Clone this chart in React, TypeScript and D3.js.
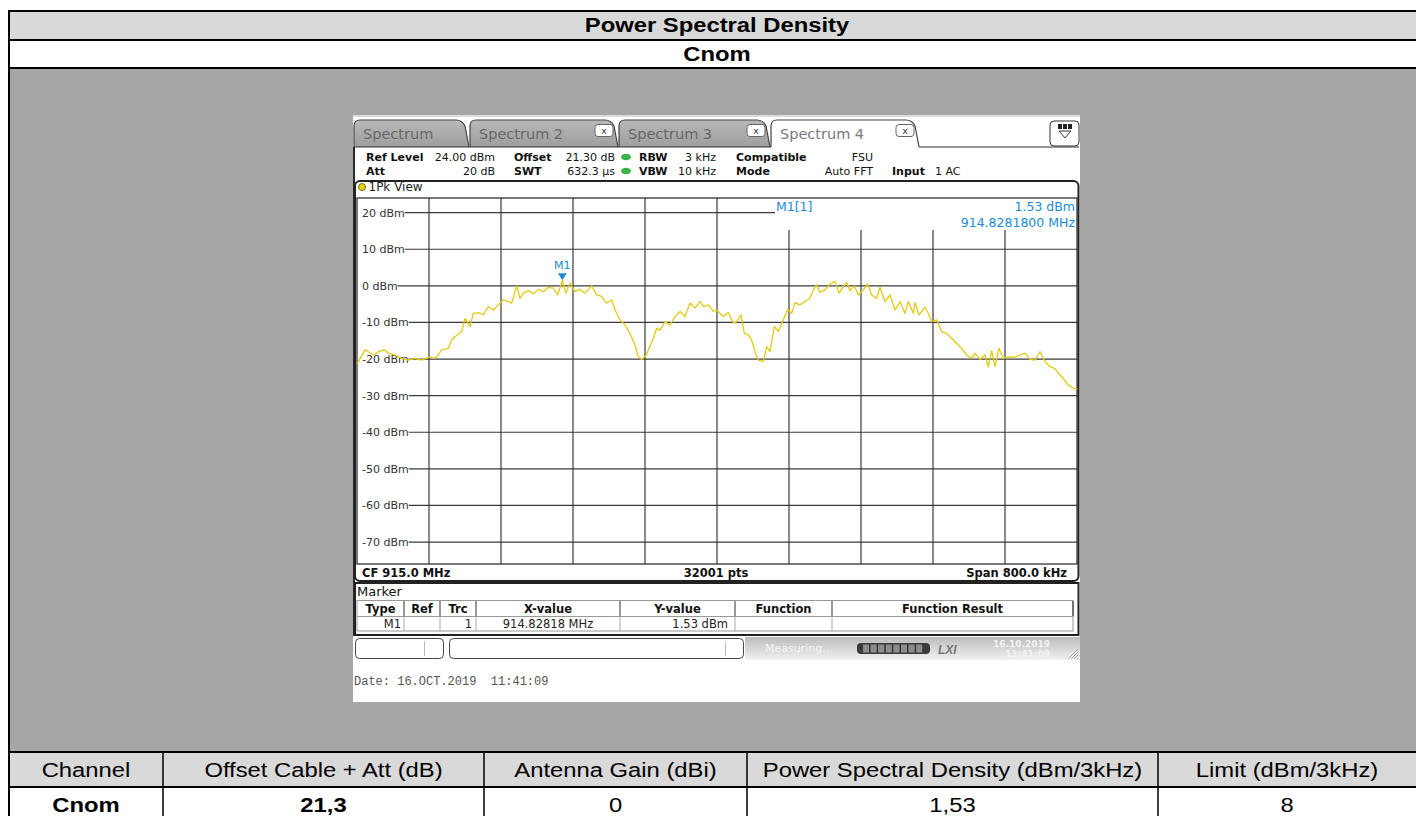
import React from 'react';
import * as d3 from 'd3';

// ---------- data ----------
const traceOffsetKHz = [
  -400, -398.5, -391.1, -387.4, -381.9, -376.3, -368.9, -365.2, -357.8, -350.4, -343.0, -335.6, -328.1,
  -320.0, -313.3, -309.6, -305.9, -298.5, -294.8, -291.1, -283.7, -280.0, -274.4, -270.7, -265.2, -259.6,
  -254.1, -248.5, -243.0, -237.4, -231.9, -228.1, -222.6, -218.9, -215.2, -209.6, -204.1, -198.5, -193.0,
  -187.4, -181.9, -177.0, -171.8, -168.1, -163.3, -157.8, -152.2, -146.7, -139.3, -133.7, -128.1, -122.6,
  -117.0, -113.3, -107.8, -102.2, -96.7, -91.1, -87.4, -83.7, -79.3, -76.3, -70.8, -67.0, -63.3, -57.8,
  -52.2, -46.7, -41.1, -35.6, -30.0, -24.4, -18.9, -15.2, -9.6, -4.1,
  -0.4, 3.3, 7.0, 12.6, 18.1, 21.9, 26.7, 30.4, 34.8, 38.5, 42.2, 45.9, 51.5, 55.2, 58.9, 63.7, 68.1, 73.7,
  78.5, 83.0, 86.7, 92.2, 97.8, 103.3, 107.0, 110.7, 114.4, 120.0, 125.6, 131.1, 135.6, 140.4, 144.1, 147.8,
  152.6, 157.0, 162.6, 167.4, 171.9, 177.4, 181.1, 186.7, 192.2, 197.8, 203.3, 208.9, 212.6, 218.1, 220.0,
  224.4, 231.1, 234.8, 238.5, 244.1, 249.6, 255.2, 260.7, 266.3, 271.9, 277.4, 283.0, 286.7, 292.2, 297.8,
  301.5, 305.2, 308.9, 313.3, 318.1, 323.7, 331.1, 336.7, 342.2, 347.8, 353.3, 358.9, 364.4, 370.0, 375.6,
  379.3, 384.8, 390.4, 396.0, 400,
];
const traceLevelDbm = [
  -21.3, -20.7, -17.5, -18.0, -18.9, -18.0, -17.5, -18.4, -18.9, -19.8, -20.3, -19.8, -20.3,
  -19.5, -19.8, -18.9, -17.4, -17.1, -14.8, -13.9, -12.5, -8.9, -11.1, -7.5, -7.3, -7.9,
  -5.7, -6.6, -5.2, -3.8, -4.3, -4.7, 0.0, -3.4, -2.0, -1.3, -2.2, -0.9, -1.6,
  -0.4, -0.6, -2.5, 1.53, -2.0, 0.7, -1.6, -0.9, -2.0, 0.0, -2.5, -2.9, -4.7,
  -3.8, -6.6, -9.3, -10.7, -13.0, -16.2, -19.4, -20.1, -19.2, -17.5, -14.3, -11.6, -12.1, -9.8,
  -10.7, -8.4, -7.0, -8.4, -4.7, -6.1, -4.3, -5.7, -5.2, -7.0,
  -6.6, -7.5, -8.4, -7.3, -10.2, -9.8, -7.9, -13.0, -13.4, -14.8, -18.0, -20.3, -20.7, -16.6, -18.0, -11.1, -12.5, -9.3,
  -6.4, -7.5, -4.6, -5.2, -4.3, -3.4, -1.1, 0.3, -1.8, -1.1, 0.5, 1.2, -2.0, -0.2, 0.9, -1.3,
  0.0, -2.5, -1.1, 0.5, -2.5, -3.4, -0.4, -4.3, -2.5, -6.6, -4.3, -7.5, -4.3, -7.5, -4.6,
  -7.9, -5.8, -7.5, -9.8, -9.3, -12.5, -13.0, -14.3, -15.7, -17.1, -18.9, -19.8, -18.4, -20.1, -18.9,
  -22.1, -17.7, -22.1, -17.1, -19.8, -19.4, -19.5, -18.9, -18.4, -20.1, -20.3, -18.0, -20.7, -22.1, -22.6,
  -23.9, -25.3, -27.1, -28.0, -28.2,
];
const yTicksDbm = [20, 10, 0, -10, -20, -30, -40, -50, -60, -70];
const xDivOffsetsKHz = [-320, -240, -160, -80, 0, 80, 160, 240, 320];
const markerOffsetKHz = -171.82;
const markerLevelDbm = 1.53;

const tableHeaders = ['Channel', 'Offset Cable + Att (dB)', 'Antenna Gain (dBi)', 'Power Spectral Density (dBm/3kHz)', 'Limit (dBm/3kHz)'];
const tableValues = ['Cnom', '21,3', '0', '1,53', '8'];
const markerTableHeaders = ['Type', 'Ref', 'Trc', 'X-value', 'Y-value', 'Function', 'Function Result'];
const tabLabels = ['Spectrum', 'Spectrum 2', 'Spectrum 3', 'Spectrum 4'];

// ---------- layout ----------
const colEdges = [9, 163, 484, 747, 1158, 1420];
const mtEdges = [357, 404, 440, 476, 620, 735, 832, 1073];
const tabEdges = [354, 470, 619, 771, 920];

const SANS = "'Liberation Sans', Arial, sans-serif";
const DV = "'DejaVu Sans', Verdana, sans-serif";
const MONO = "'Liberation Mono', 'Courier New', monospace";

const dvW: Record<string, number> = { '0': .636, '1': .636, '2': .636, '3': .636, '4': .636, '5': .636, '6': .636, '7': .636, '8': .636, '9': .636, ' ': .318, '-': .361, d: .635, B: .686, m: .974 };
const labelWidth = (s: string, fs: number) => s.split('').reduce((a, c) => a + (dvW[c] ?? .6), 0) * fs;

const ST = ({ cx, y, children, bold = false, size = 20 }: any) => (
  <text transform={`translate(${cx},${y}) scale(1.19,1)`} textAnchor="middle" fontFamily={SANS}
    fontSize={size} fontWeight={bold ? 'bold' : 'normal'} fill="#000">{children}</text>
);

export default function App() {
  const x = d3.scaleLinear().domain([-400, 400]).range([357, 1077]);
  const y = d3.scaleLinear().domain([-76, 24]).range([564, 198]);
  const pts: [number, number][] = traceOffsetKHz.map((f, i) => [f, traceLevelDbm[i]]);
  const line = d3.line<[number, number]>().x(d => x(d[0])).y(d => y(d[1]));
  const mx = x(markerOffsetKHz);
  const my = y(markerLevelDbm);
  const blue = '#1a8cd8';

  return (
    <svg width={1416} height={816} style={{ position: 'absolute', left: 0, top: 0, background: '#fff' }}>
      <defs>
        <linearGradient id="tabg" x1="0" y1="0" x2="0" y2="1">
          <stop offset="0" stopColor="#b9b9b9" />
          <stop offset="1" stopColor="#9d9d9d" />
        </linearGradient>
        <linearGradient id="sbg" x1="0" y1="0" x2="0" y2="1">
          <stop offset="0" stopColor="#bcbcbc" />
          <stop offset="0.5" stopColor="#d6d6d6" />
          <stop offset="1" stopColor="#f2f2f2" />
        </linearGradient>
        <clipPath id="plotclip"><rect x={357} y={198} width={720} height={366} /></clipPath>
      </defs>

      {/* outer document table */}
      <rect x={9} y={11} width={1411} height={29} fill="#d9d9d9" />
      <rect x={9} y={40} width={1411} height={28} fill="#fff" />
      <rect x={9} y={68} width={1411} height={684} fill="#a6a6a6" />
      <rect x={9} y={752} width={1411} height={35} fill="#d9d9d9" />
      <rect x={9} y={787} width={1411} height={40} fill="#fff" />
      {[11, 40, 68, 752, 787].map(v => <line key={v} x1={8} x2={1420} y1={v} y2={v} stroke="#000" strokeWidth={2} />)}
      <line x1={9} x2={9} y1={10} y2={816} stroke="#000" strokeWidth={2} />
      {colEdges.slice(1, -1).map(v => <line key={v} x1={v} x2={v} y1={752} y2={816} stroke="#000" strokeWidth={1.5} />)}
      <ST cx={717} y={32} bold>Power Spectral Density</ST>
      <ST cx={717} y={61} bold>Cnom</ST>
      {tableHeaders.map((h, i) => <ST key={h} cx={(colEdges[i] + Math.min(colEdges[i + 1], 1416)) / 2} y={777}>{h}</ST>)}
      {tableValues.map((v, i) => <ST key={i} cx={(colEdges[i] + Math.min(colEdges[i + 1], 1416)) / 2} y={812} bold={i < 2}>{v}</ST>)}

      {/* instrument screenshot */}
      <rect x={353} y={115} width={727} height={587} fill="#fff" />
      <rect x={353} y={115} width={727} height={2} fill="#dcdcdc" />

      {/* tabs */}
      {tabLabels.map((t, i) => {
        const x0 = tabEdges[i], x1 = tabEdges[i + 1];
        const active = i === 3;
        const d = `M${x0},147 L${x0},126 Q${x0},120 ${x0 + 6},120 L${x1 - 14},120 Q${x1 - 8},120 ${x1 - 5},126 L${x1 - 1},147`;
        return (
          <g key={t}>
            <path d={d} fill={active ? '#fff' : 'url(#tabg)'} stroke="#444" strokeWidth={1.2} />
            <text x={x0 + 9} y={139} fontFamily={DV} fontSize={14.5} fill={active ? '#7a7a7a' : '#686868'}>{t}</text>
            {i > 0 && (
              <g>
                <rect x={x1 - 24} y={124.5} width={18} height={12} rx={3} fill="#fff" stroke="#666" />
                <text x={x1 - 15} y={134} fontFamily={DV} fontSize={9.5} textAnchor="middle" fill="#333">x</text>
              </g>
            )}
          </g>
        );
      })}
      <line x1={354} x2={771} y1={147} y2={147} stroke="#333" strokeWidth={1.2} />
      <line x1={919} x2={1079} y1={147} y2={147} stroke="#333" strokeWidth={1.2} />
      <rect x={1050} y={121} width={29} height={25} rx={4} fill="#fff" stroke="#333" />
      <rect x={1058} y={124} width={14} height={5} fill="#222" />
      <line x1={1062.5} x2={1062.5} y1={124} y2={129} stroke="#fff" />
      <line x1={1067.5} x2={1067.5} y1={124} y2={129} stroke="#fff" />
      <path d="M1059,131 L1071,131 L1065,138 Z" fill="#fff" stroke="#333" />
      <line x1={354} x2={354} y1={147} y2={636} stroke="#2a2a2a" strokeWidth={2} />

      {/* info rows */}
      <g fontFamily={DV} fontSize={11} fill="#111">
        <text x={366} y={160.5} fontWeight="bold">Ref Level</text>
        <text x={495} y={160.5} textAnchor="end">24.00 dBm</text>
        <text x={514} y={160.5} fontWeight="bold">Offset</text>
        <text x={615} y={160.5} textAnchor="end">21.30 dB</text>
        <text x={639} y={160.5} fontWeight="bold">RBW</text>
        <text x={716} y={160.5} textAnchor="end">3 kHz</text>
        <text x={736} y={160.5} fontWeight="bold">Compatible</text>
        <text x={873} y={160.5} textAnchor="end">FSU</text>
        <text x={366} y={175} fontWeight="bold">Att</text>
        <text x={495} y={175} textAnchor="end">20 dB</text>
        <text x={514} y={175} fontWeight="bold">SWT</text>
        <text x={615} y={175} textAnchor="end">632.3 µs</text>
        <text x={639} y={175} fontWeight="bold">VBW</text>
        <text x={716} y={175} textAnchor="end">10 kHz</text>
        <text x={736} y={175} fontWeight="bold">Mode</text>
        <text x={873} y={175} textAnchor="end">Auto FFT</text>
        <text x={892} y={175} fontWeight="bold">Input</text>
        <text x={935} y={175}>1 AC</text>
      </g>
      <ellipse cx={626} cy={157} rx={5} ry={3.2} fill="#3cb44a" />
      <ellipse cx={626} cy={171} rx={5} ry={3.2} fill="#3cb44a" />

      {/* window panel */}
      <rect x={355} y={181} width={723.5} height={400} rx={5} fill="#fff" stroke="#222" strokeWidth={2} />
      <circle cx={362} cy={187} r={3.5} fill="#e8d21d" stroke="#7a6c00" strokeWidth={1} />
      <text x={368.5} y={191} fontFamily={DV} fontSize={12} fill="#222">1Pk View</text>

      {/* grid */}
      {yTicksDbm.map(t => {
        const lab = `${t} dBm`;
        const x1 = 362 + labelWidth(lab, 11);
        const x2 = t === 20 ? 775 : 1077;
        return <line key={t} x1={x1} x2={x2} y1={y(t)} y2={y(t)} stroke="#3a3a3a" strokeWidth={1.2} />;
      })}
      {xDivOffsetsKHz.map(f => (
        <line key={f} x1={x(f)} x2={x(f)} y1={x(f) > 775 ? 230 : 198} y2={564} stroke="#3a3a3a" strokeWidth={1.2} />
      ))}
      <rect x={357} y={198} width={720} height={366} fill="none" stroke="#222" strokeWidth={1.2} />
      {yTicksDbm.map(t => (
        <text key={t} x={362} y={y(t) + 4} fontFamily={DV} fontSize={11} fill="#333">{`${t} dBm`}</text>
      ))}

      {/* trace */}
      <path d={line(pts) || ''} fill="none" stroke="#e2cb12" strokeWidth={1.3} strokeLinejoin="round" clipPath="url(#plotclip)" />

      {/* marker */}
      <path d={`M${mx - 4.5},${my - 7} L${mx + 4.5},${my - 7} L${mx},${my} Z`} fill={blue} />
      <text x={mx} y={my - 11} textAnchor="middle" fontFamily={DV} fontSize={11} fill={blue}>M1</text>
      <text x={776} y={210.5} fontFamily={DV} fontSize={12.5} fill={blue}>M1[1]</text>
      <text x={1075} y={210.5} textAnchor="end" fontFamily={DV} fontSize={12.5} fill={blue}>1.53 dBm</text>
      <text x={1075} y={226.5} textAnchor="end" fontFamily={DV} fontSize={12.5} fill={blue}>914.8281800 MHz</text>

      {/* bottom info */}
      <g fontFamily={DV} fontSize={11.5} fontWeight="bold" fill="#111">
        <text x={362} y={577}>CF 915.0 MHz</text>
        <text x={716} y={577} textAnchor="middle">32001 pts</text>
        <text x={1067} y={577} textAnchor="end">Span 800.0 kHz</text>
      </g>

      {/* marker table panel */}
      <rect x={355} y={583} width={723.5} height={52} fill="#fff" stroke="#222" strokeWidth={2} />
      <text x={357} y={596} fontFamily={DV} fontSize={13} fill="#111">Marker</text>
      <rect x={357} y={600.5} width={716} height={30.5} fill="none" stroke="#999" />
      <line x1={357} x2={1073} y1={616.5} y2={616.5} stroke="#999" />
      {mtEdges.slice(1, -1).map(e => <line key={e} x1={e} x2={e} y1={601} y2={616} stroke="#555" strokeWidth={1.2} />)}
      {mtEdges.slice(1, -1).map(e => <line key={'d' + e} x1={e} x2={e} y1={617} y2={631} stroke="#aaa" />)}
      <line x1={1073} x2={1073} y1={601} y2={616} stroke="#555" strokeWidth={1.5} />
      {markerTableHeaders.map((h, i) => (
        <text key={h} x={(mtEdges[i] + mtEdges[i + 1]) / 2} y={612.5} textAnchor="middle" fontFamily={DV} fontSize={11.5} fontWeight="bold" fill="#111">{h}</text>
      ))}
      <g fontFamily={DV} fontSize={11.5} fill="#222">
        <text x={401} y={628} textAnchor="end">M1</text>
        <text x={472} y={628} textAnchor="end">1</text>
        <text x={548} y={628} textAnchor="middle">914.82818 MHz</text>
        <text x={728} y={628} textAnchor="end">1.53 dBm</text>
      </g>

      {/* status bar */}
      <rect x={745} y={637} width={335} height={23} fill="url(#sbg)" />
      <rect x={355.5} y={638.5} width={88} height={20} rx={4} fill="#fff" stroke="#444" />
      <line x1={424.5} x2={424.5} y1={641} y2={656} stroke="#bbb" />
      <rect x={449.5} y={638.5} width={294} height={20} rx={4} fill="#fff" stroke="#444" />
      <line x1={725.5} x2={725.5} y1={641} y2={656} stroke="#bbb" />
      <text x={765} y={652} fontFamily={DV} fontSize={11} fill="#f5f5f5">Measuring...</text>
      <rect x={857} y={643} width={73} height={11} rx={4} fill="#3a3a3a" />
      {[0, 1, 2, 3, 4, 5, 6, 7].map(i => <rect key={i} x={863 + i * 7.6} y={644.5} width={6} height={8} fill="#8c8c8c" />)}
      <text x={938} y={654} fontFamily={SANS} fontSize={12} fontWeight="bold" fontStyle="italic" fill="#777">LXI</text>
      <text x={1050} y={647} textAnchor="end" fontFamily={DV} fontSize={9} fontWeight="bold" fill="#f2f2f2">16.10.2019</text>
      <text x={1050} y={657} textAnchor="end" fontFamily={DV} fontSize={9} fontWeight="bold" fill="#f2f2f2">11:41:09</text>
      {[0, 1, 2, 3].map(i => <line key={i} x1={1068 + i * 3} x2={1078} y1={659} y2={649 + i * 3} stroke="#aaa" />)}

      <text x={354} y={685} fontFamily={MONO} fontSize={12} fill="#555" style={{ whiteSpace: 'pre' }}>Date: 16.OCT.2019  11:41:09</text>
    </svg>
  );
}
